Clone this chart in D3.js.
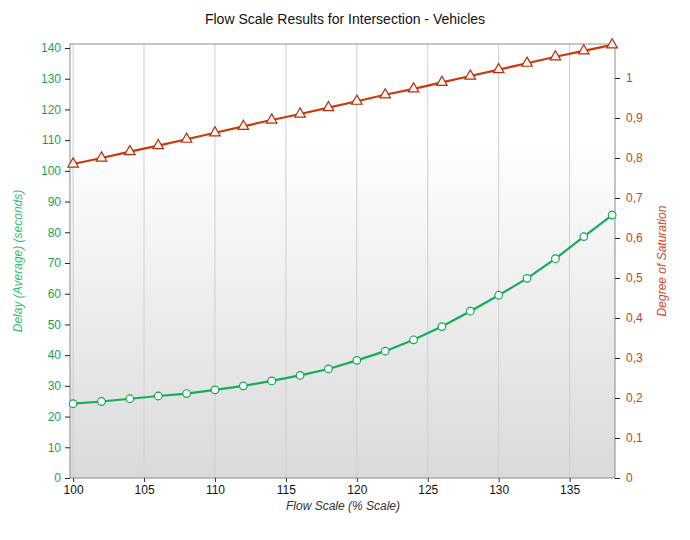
<!DOCTYPE html>
<html><head><meta charset="utf-8">
<script src="https://cdn.jsdelivr.net/npm/d3@7"></script>
<style>
body{margin:0;background:#fff;}
svg text{font-family:"Liberation Sans",Arial,sans-serif;}
</style></head>
<body><div id="chart"></div>
<script>
const flowScale = [100,102,104,106,108,110,112,114,116,118,120,122,124,126,128,130,132,134,136,138];
const delay = [24.2,24.9,25.8,26.7,27.5,28.7,30.0,31.6,33.4,35.5,38.3,41.3,45.0,49.3,54.3,59.5,65.0,71.4,78.6,85.6];
const saturation = [0.785,0.80,0.816,0.831,0.847,0.863,0.879,0.895,0.91,0.926,0.942,0.958,0.973,0.989,1.005,1.021,1.037,1.053,1.068,1.083];
const xTicks = [100,105,110,115,120,125,130,135];
const leftTicks = [0,10,20,30,40,50,60,70,80,90,100,110,120,130,140];
const rightTicks = [0,0.1,0.2,0.3,0.4,0.5,0.6,0.7,0.8,0.9,1];

const W=690,H=540;
const m={l:70,r:75,t:44,b:62};
const pw=W-m.l-m.r, ph=H-m.t-m.b;
const svg=d3.select("#chart").append("svg").attr("width",W).attr("height",H);

const x=d3.scaleLinear().domain([99.78,138.2]).range([m.l,m.l+pw]);
const yL=d3.scaleLinear().domain([0,141.3]).range([m.t+ph,m.t]);
const yR=d3.scaleLinear().domain([0,1.085]).range([m.t+ph,m.t]);

const defs=svg.append("defs");
const g=defs.append("linearGradient").attr("id","bg").attr("x1",0).attr("y1",0).attr("x2",0).attr("y2",1);
g.append("stop").attr("offset","0%").attr("stop-color","#ffffff");
g.append("stop").attr("offset","22%").attr("stop-color","#ffffff");
g.append("stop").attr("offset","100%").attr("stop-color","#dadada");

svg.append("rect").attr("x",m.l).attr("y",m.t).attr("width",pw).attr("height",ph).attr("fill","url(#bg)");

// vertical gridlines
svg.append("g").selectAll("line").data(xTicks).join("line")
  .attr("x1",d=>x(d)).attr("x2",d=>x(d)).attr("y1",m.t).attr("y2",m.t+ph)
  .attr("stroke","#cfcfcf").attr("stroke-width",1);

svg.append("rect").attr("x",m.l).attr("y",m.t).attr("width",pw).attr("height",ph)
  .attr("fill","none").attr("stroke","#8c8c8c").attr("stroke-width",1);

// axes
const xa=svg.append("g").attr("transform",`translate(0,${m.t+ph})`)
  .call(d3.axisBottom(x).tickValues(xTicks).tickSize(4).tickPadding(3).tickFormat(d3.format("d")));
xa.select(".domain").remove();
xa.selectAll("text").attr("fill","#111").attr("font-size",12);
xa.selectAll("line").attr("stroke","#333");

const la=svg.append("g").attr("transform",`translate(${m.l},0)`)
  .call(d3.axisLeft(yL).tickValues(leftTicks).tickSize(5).tickPadding(4).tickFormat(d3.format("d")));
la.select(".domain").remove();
la.selectAll("text").attr("fill","#1a9f5a").attr("font-size",12);
la.selectAll("line").attr("stroke","#222");

const ra=svg.append("g").attr("transform",`translate(${m.l+pw},0)`)
  .call(d3.axisRight(yR).tickValues(rightTicks).tickSize(5).tickPadding(6).tickFormat(d=>d3.format("")(d).replace(".",",")));
ra.select(".domain").remove();
ra.selectAll("text").attr("fill","#c4461a").attr("font-size",12);
ra.selectAll("line").attr("stroke","#222");

// titles
svg.append("text").attr("x",345).attr("y",24).attr("text-anchor","middle").attr("font-size",14).attr("fill","#111")
  .text("Flow Scale Results for Intersection - Vehicles");
svg.append("text").attr("x",343).attr("y",510).attr("text-anchor","middle").attr("font-size",12).attr("font-style","italic").attr("fill","#333")
  .text("Flow Scale (% Scale)");
svg.append("text").attr("transform",`translate(22,${m.t+ph/2}) rotate(-90)`).attr("text-anchor","middle")
  .attr("font-size",12).attr("font-style","italic").attr("fill","#2ebd6c").text("Delay (Average) (seconds)");
svg.append("text").attr("transform",`translate(666,${m.t+ph/2}) rotate(-90)`).attr("text-anchor","middle")
  .attr("font-size",12).attr("font-style","italic").attr("fill","#d2452a").text("Degree of Saturation");

// lines
const delayData=flowScale.map((f,i)=>[f,delay[i]]);
const satData=flowScale.map((f,i)=>[f,saturation[i]]);
const clip=defs.append("clipPath").attr("id","clip").append("rect")
  .attr("x",m.l-10).attr("y",m.t-10).attr("width",pw+20).attr("height",ph+20);

svg.append("path").datum(delayData).attr("fill","none").attr("stroke","#14ad5c").attr("stroke-width",2.2)
  .attr("d",d3.line().x(d=>x(d[0])).y(d=>yL(d[1])));
svg.append("g").selectAll("circle").data(delayData).join("circle")
  .attr("cx",d=>x(d[0])).attr("cy",d=>yL(d[1])).attr("r",3.8)
  .attr("fill","#ffffff").attr("stroke","#14a55a").attr("stroke-width",1.2);

svg.append("path").datum(satData).attr("fill","none").attr("stroke","#c83a0c").attr("stroke-width",2.2)
  .attr("d",d3.line().x(d=>x(d[0])).y(d=>yR(d[1])));
const tri=d3.symbol().type(d3.symbolTriangle).size(48);
svg.append("g").selectAll("path").data(satData).join("path")
  .attr("transform",d=>`translate(${x(d[0])},${yR(d[1])})`).attr("d",tri)
  .attr("fill","#fff4ec").attr("stroke","#b03010").attr("stroke-width",1.2);
</script></body></html>
